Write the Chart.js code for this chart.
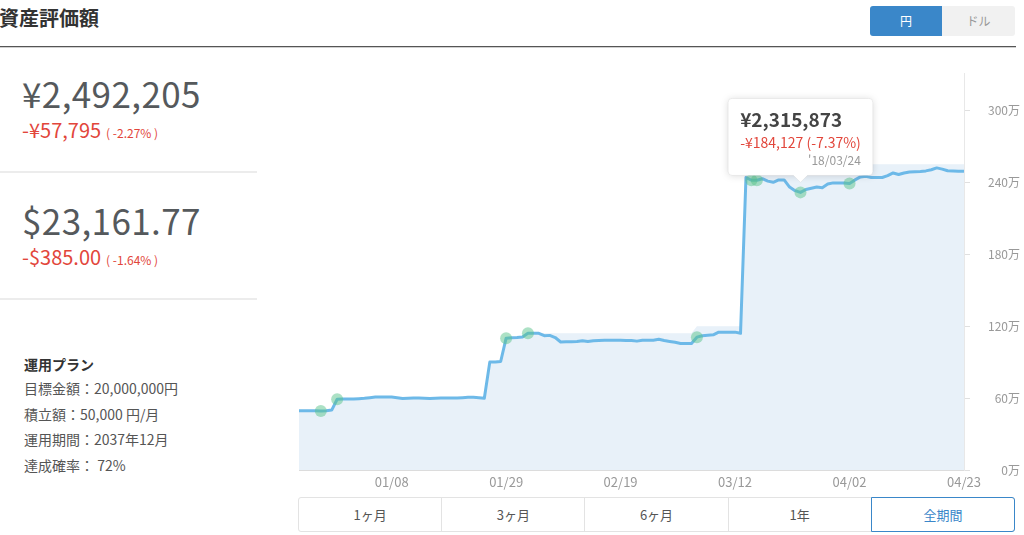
<!DOCTYPE html>
<html lang="ja">
<head>
<meta charset="utf-8">
<script src="https://cdn.jsdelivr.net/npm/chart.js@4"></script>
<style>
  body { margin: 0; width: 1024px; height: 535px; overflow: hidden; background: #fff;
         font-family: "Noto Sans CJK JP", "Noto Sans", sans-serif; color: #555; position: relative; }
  .abs { position: absolute; white-space: nowrap; }
  .big { font-size: 35px; line-height: 44px; color: #55595c; left: 22px; letter-spacing: 0.4px; }
  .red { font-size: 20px; line-height: 24px; color: #e2463b; left: 22px; }
  .red small { font-size: 12px; margin-left: 5px; }
  .sep { left: 0; width: 257px; height: 2px; background: #ececec; }
  .plan { left: 24px; font-size: 14px; line-height: 20px; color: #555; }
  #btns { left: 298px; top: 497px; width: 715px; height: 33px; border: 1px solid #e3e3e3; border-radius: 3px; display: flex; }
  #btns div { flex: 1; text-align: center; line-height: 33px; font-size: 13px; color: #555; border-left: 1px solid #e3e3e3; }
  #btns div:first-child { border-left: none; }
  #btns div.on { color: #3a87c9; border: 1px solid #3a87c9; margin: -1px -1px -1px 0; border-radius: 0 3px 3px 0; }
</style>
</head>
<body>
<div class="abs" style="left:-1px;top:4px;font-size:20px;line-height:28px;font-weight:bold;color:#333">資産評価額</div>
<div class="abs" style="left:0;top:46px;width:1016px;height:1px;background:#555"></div>
<div class="abs" style="left:0;top:47px;width:1016px;height:1px;background:#d0d0d0"></div>

<div class="abs" style="left:870px;top:6px;width:72px;height:30px;background:#3a87c9;color:#fff;font-size:12px;line-height:30px;text-align:center;border-radius:3px 0 0 3px">円</div>
<div class="abs" style="left:942px;top:6px;width:73px;height:30px;background:#f1f1f1;color:#999;font-size:12px;line-height:30px;text-align:center;border-radius:0 3px 3px 0">ドル</div>

<div class="abs big" style="top:71px">¥2,492,205</div>
<div class="abs red" style="top:118px">-¥57,795<small>( -2.27% )</small></div>
<div class="abs sep" style="top:171px"></div>
<div class="abs big" style="top:198px">$23,161.77</div>
<div class="abs red" style="top:245px">-$385.00<small>( -1.64% )</small></div>
<div class="abs sep" style="top:298px"></div>

<div class="abs plan" style="top:354px;font-weight:bold;color:#333">運用プラン</div>
<div class="abs plan" style="top:378px">目標金額：20,000,000円</div>
<div class="abs plan" style="top:404px">積立額：50,000 円/月</div>
<div class="abs plan" style="top:429px">運用期間：2037年12月</div>
<div class="abs plan" style="top:455px">達成確率： 72%</div>

<div class="abs" style="left:290px;top:54px;width:730px;height:438px">
  <canvas id="grafica_valor"></canvas>
</div>

<div class="abs" id="btns">
  <div>1ヶ月</div><div>3ヶ月</div><div>6ヶ月</div><div>1年</div><div class="on">全期間</div>
</div>

<script>
// daily valuation, 2017/12/22 - 2018/04/23 (yen)
const valores = [
  495000, 495000, 495000, 495000, 493000, 495000, 500000,
  590000, 592000, 593000, 593000, 595000, 598000, 603000, 608000, 608000, 608000, 608000, 603000, 596000,
  598000, 600000, 600000, 598000, 596000, 598000, 600000, 600000, 600000, 601000, 603000, 606000, 606000, 603000, 598000,
  900000, 900000, 905000,
  1100000, 1103000, 1105000, 1110000,
  1140000, 1140000, 1140000, 1120000, 1123000, 1105000, 1068000, 1070000, 1070000, 1072000, 1078000, 1072000, 1078000,
  1081000, 1082000, 1082000, 1082000, 1082000, 1080000, 1080000, 1075000, 1082000, 1083000, 1083000, 1090000, 1080000,
  1072000, 1065000, 1056000, 1055000, 1055000,
  1108000, 1120000, 1125000, 1128000, 1150000, 1150000, 1150000, 1150000, 1140000,
  2440000, 2417000, 2417000, 2430000, 2410000, 2400000, 2420000, 2420000, 2360000, 2330000, 2315873, 2340000, 2350000,
  2360000, 2355000, 2385000, 2395000, 2395000, 2395000, 2390000, 2420000, 2445000, 2450000, 2440000, 2440000, 2440000,
  2455000, 2478000, 2465000, 2478000, 2486000, 2488000, 2490000, 2495000, 2505000, 2520000, 2510000, 2496000, 2494000,
  2493000, 2492205
];

// invested principal (yen)
const principal = [
  500000, 500000, 500000, 500000, 500000, 500000, 500000,
  600000, 600000, 600000, 600000, 600000, 600000, 600000, 600000, 600000, 600000, 600000, 600000, 600000, 600000,
  600000, 600000, 600000, 600000, 600000, 600000, 600000, 600000, 600000, 600000, 600000, 600000, 600000, 600000,
  900000, 900000, 900000,
  1100000, 1100000, 1100000, 1100000,
  1140000, 1140000, 1140000, 1140000, 1140000, 1140000, 1140000, 1140000, 1140000, 1140000, 1140000, 1140000, 1140000,
  1140000, 1140000, 1140000, 1140000, 1140000, 1140000, 1140000, 1140000, 1140000, 1140000, 1140000, 1140000, 1140000,
  1140000, 1140000, 1140000, 1140000, 1140000,
  1200000, 1200000, 1200000, 1200000, 1200000, 1200000, 1200000, 1200000, 1200000,
  2500000, 2500000, 2500000, 2500000, 2500000, 2500000, 2500000, 2500000, 2500000, 2500000, 2500000, 2500000, 2500000,
  2500000, 2500000, 2500000, 2500000, 2500000, 2500000,
  2550000, 2550000, 2550000, 2550000, 2550000, 2550000, 2550000, 2550000, 2550000, 2550000, 2550000, 2550000, 2550000,
  2550000, 2550000, 2550000, 2550000, 2550000, 2550000, 2550000, 2550000, 2550000
];

// days with a purchase (green markers)
const compras = [4, 7, 38, 42, 73, 83, 84, 92, 101];
const xTickLabels = ['01/08', '01/29', '02/19', '03/12', '04/02', '04/23'];
const yTicks = [0, 600000, 1200000, 1800000, 2400000, 3000000];
const tooltipIndex = 92;

const fechas = [];
for (let i = 0; i < valores.length; i++) {
  fechas.push(new Date(2017, 11, 22 + i));
}
const pad = n => String(n).padStart(2, '0');
const labels = fechas.map(d => pad(d.getMonth() + 1) + '/' + pad(d.getDate()));
const puntos = valores.map((v, i) => compras.includes(i) ? v : null);
const yen = n => '¥' + Math.round(Math.abs(n)).toLocaleString('en-US');

const tooltipShadow = {
  id: 'tooltipShadow',
  beforeTooltipDraw(chart, args) {
    const t = args.tooltip;
    const ctx = chart.ctx;
    ctx.save();
    ctx.shadowColor = 'rgba(0,0,0,0.18)';
    ctx.shadowBlur = 8;
    ctx.shadowOffsetY = 1;
    ctx.fillStyle = '#fff';
    ctx.fillRect(t.x + 1, t.y + 1, t.width - 2, t.height - 2);
    ctx.restore();
  }
};

Chart.defaults.font.family = '"Noto Sans CJK JP", "Noto Sans", sans-serif';

const ctx = document.getElementById('grafica_valor').getContext('2d');
const chart = new Chart(ctx, {
  type: 'line',
  data: {
    labels: labels,
    datasets: [
      {
        label: '購入',
        data: puntos,
        showLine: false,
        pointRadius: 6,
        pointHoverRadius: 6,
        pointBorderWidth: 0,
        pointBackgroundColor: 'rgba(90,195,140,0.5)',
        order: 0
      },
      {
        label: '評価額',
        data: valores,
        borderColor: '#6db9e8',
        borderWidth: 3,
        borderJoinStyle: 'round',
        backgroundColor: '#e8f1f9',
        fill: 'origin',
        pointRadius: 0,
        pointHoverRadius: 0,
        order: 1
      },
      {
        label: '元本',
        data: principal,
        borderWidth: 0,
        borderColor: 'rgba(0,0,0,0)',
        backgroundColor: '#e8f1f9',
        fill: 'origin',
        pointRadius: 0,
        pointHoverRadius: 0,
        order: 2
      }
    ]
  },
  options: {
    responsive: true,
    maintainAspectRatio: false,
    animation: false,
    events: [],
    layout: { padding: { top: 7, left: 9, right: 0, bottom: 0 } },
    scales: {
      x: {
        grid: {
          color: c => xTickLabels.includes(labels[c.index]) ? '#e3e3e3' : 'rgba(0,0,0,0)',
          drawTicks: false
        },
        border: { color: '#dcdcdc' },
        ticks: {
          autoSkip: false,
          maxRotation: 0,
          padding: 4,
          color: '#999',
          font: { size: 13 },
          callback: function (val) {
            const l = this.getLabelForValue(val);
            return xTickLabels.includes(l) ? l : null;
          }
        },
        afterFit: s => { s.height = 22; }
      },
      y: {
        position: 'right',
        min: 0,
        max: 3310000,
        afterBuildTicks: s => { s.ticks = yTicks.map(v => ({ value: v })); },
        grid: { drawOnChartArea: false, color: '#e0e0e0', tickLength: 6 },
        border: { color: '#e8e8e8' },
        ticks: {
          crossAlign: 'far',
          padding: 12,
          color: '#999',
          font: { size: 12 },
          callback: v => (v / 10000) + '万'
        },
        afterFit: s => { s.width = 56; }
      }
    },
    plugins: {
      legend: { display: false },
      tooltip: {
        enabled: true,
        displayColors: false,
        backgroundColor: '#fff',
        borderColor: 'rgba(0,0,0,0.06)',
        borderWidth: 1,
        cornerRadius: 4,
        caretSize: 7,
        caretPadding: 10,
        xAlign: 'center',
        yAlign: 'bottom',
        padding: { top: 10, left: 12, right: 12, bottom: 8 },
        titleColor: '#444',
        titleFont: { size: 19, weight: 'bold' },
        titleMarginBottom: 3,
        bodyColor: '#e2463b',
        bodyFont: { size: 14 },
        footerColor: '#999',
        footerFont: { size: 12, weight: 'normal' },
        footerAlign: 'right',
        footerMarginTop: 2,
        callbacks: {
          title: items => yen(valores[items[0].dataIndex]),
          label: item => {
            const i = item.dataIndex;
            const diff = valores[i] - principal[i];
            const pct = (diff / principal[i] * 100).toFixed(2);
            return (diff < 0 ? '-' : '+') + yen(diff) + ' (' + pct + '%)';
          },
          footer: items => {
            const d = fechas[items[0].dataIndex];
            return "'" + String(d.getFullYear()).slice(2) + '/' + pad(d.getMonth() + 1) + '/' + pad(d.getDate());
          }
        }
      }
    }
  },
  plugins: [tooltipShadow]
});

chart.tooltip.setActiveElements([{ datasetIndex: 1, index: tooltipIndex }], { x: 0, y: 0 });
chart.update();
</script>
</body>
</html>
